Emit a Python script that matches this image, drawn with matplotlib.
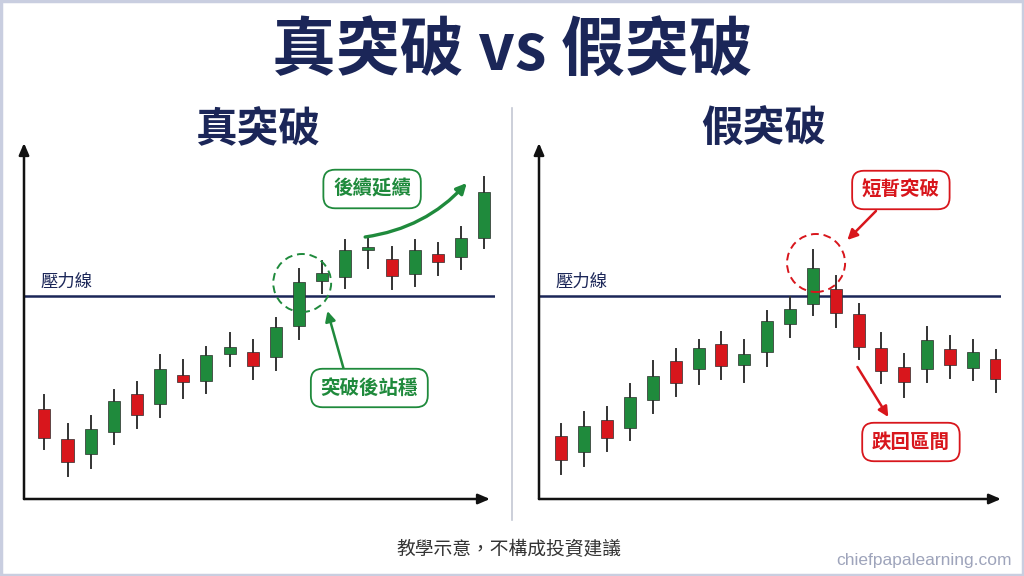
import matplotlib
matplotlib.use("Agg")
import matplotlib.pyplot as plt
from matplotlib.patches import Rectangle, Ellipse
from matplotlib.lines import Line2D

plt.rcParams['font.family'] = ['Noto Sans CJK TC', 'DejaVu Sans']

# price units: arbitrary, resistance line at 204
resistance = 204

# true breakout: open, close, high, low
true_open = [91, 61, 46, 68, 106, 96, 125, 119, 146, 148, 143, 174, 219, 223, 250, 241, 226, 246, 243, 262]
true_close = [62, 38, 71, 99, 85, 131, 118, 145, 153, 134, 173, 218, 227, 250, 253, 224, 250, 238, 262, 308]
true_high = [105, 76, 84, 110, 118, 145, 140, 153, 167, 160, 182, 231, 239, 260, 261, 253, 260, 257, 273, 323]
true_low = [51, 24, 32, 56, 72, 83, 102, 107, 134, 121, 130, 161, 207, 212, 232, 211, 214, 225, 231, 252]

# false breakout
false_open = [64, 48, 80, 72, 100, 139, 131, 156, 135, 148, 176, 196, 211, 186, 152, 133, 131, 151, 132, 141]
false_close = [40, 74, 62, 103, 124, 117, 152, 134, 146, 179, 191, 232, 187, 153, 129, 118, 160, 135, 148, 121]
false_high = [76, 88, 93, 116, 139, 151, 160, 168, 160, 189, 203, 250, 224, 196, 167, 146, 173, 164, 160, 150]
false_low = [26, 34, 49, 60, 87, 104, 116, 121, 118, 134, 163, 185, 173, 141, 117, 103, 118, 122, 120, 108]

GREEN = '#1f8a3c'
RED = '#d8161c'
NAVY = '#1b2658'


def draw_candles(ax, o, c, h, l):
    for i in range(len(o)):
        col = GREEN if c[i] >= o[i] else RED
        ax.plot([i, i], [l[i], h[i]], color='#333333', lw=1.4, zorder=2)
        lo, hi = min(o[i], c[i]), max(o[i], c[i])
        ax.add_patch(Rectangle((i - 0.26, lo), 0.52, max(hi - lo, 3),
                               facecolor=col, edgecolor='#2a2a2a', lw=0.5, zorder=3))


def setup(ax, xlim, xarrow):
    ax.set_xlim(*xlim)
    ax.set_ylim(1, 357)
    ax.axis('off')
    ax.annotate('', xy=(0, 1.0), xytext=(0, 0), xycoords='axes fraction',
                arrowprops=dict(arrowstyle='-|>,head_length=0.7,head_width=0.3',
                                color='#111111', lw=1.8, shrinkA=0, shrinkB=0))
    ax.annotate('', xy=(xarrow, 0), xytext=(0, 0), xycoords='axes fraction',
                arrowprops=dict(arrowstyle='-|>,head_length=0.7,head_width=0.3',
                                color='#111111', lw=1.8, shrinkA=0, shrinkB=0))
    ax.axhline(resistance, color=NAVY, lw=1.8, zorder=1)
    ax.text(xlim[0] + 0.72, resistance + 14, '壓力線', fontsize=12.5, color=NAVY,
            ha='left', va='center')


def label(ax, x, y, s, col):
    ax.text(x, y, s, fontsize=14, fontweight='bold', color=col, ha='center', va='center',
            bbox=dict(boxstyle='round,pad=0.5,rounding_size=0.6', fc='white', ec=col, lw=1.3),
            zorder=5)


fig = plt.figure(figsize=(10.24, 5.76), dpi=100, facecolor='white')

ax1 = fig.add_axes([24 / 1024, 77 / 576, 471 / 1024, 356 / 576])
setup(ax1, (-0.88, 19.47), 466 / 471)
draw_candles(ax1, true_open, true_close, true_high, true_low)
ax1.add_patch(Ellipse((11.14, 217), 2.5, 58, fill=False, ec=GREEN, lw=1.4,
                      ls=(0, (4, 2.5)), zorder=4))
label(ax1, 14.16, 311, '後續延續', GREEN)
label(ax1, 14.04, 112, '突破後站穩', GREEN)
ax1.annotate('', xy=(18.25, 317), xytext=(13.86, 263),
             arrowprops=dict(arrowstyle='-|>,head_length=0.6,head_width=0.3', color=GREEN,
                             lw=2.4, connectionstyle='arc3,rad=0.18', shrinkA=0, shrinkB=0))
ax1.annotate('', xy=(12.23, 189), xytext=(12.92, 132),
             arrowprops=dict(arrowstyle='-|>,head_length=0.6,head_width=0.3', color=GREEN,
                             lw=1.8, shrinkA=0, shrinkB=0))

ax2 = fig.add_axes([539 / 1024, 77 / 576, 462 / 1024, 356 / 576])
setup(ax2, (-0.98, 19.23), 1.0)
draw_candles(ax2, false_open, false_close, false_high, false_low)
ax2.add_patch(Ellipse((11.14, 237), 2.54, 58, fill=False, ec=RED, lw=1.4,
                      ls=(0, (4, 2.5)), zorder=4))
label(ax2, 14.85, 310, '短暫突破', RED)
label(ax2, 15.29, 58, '跌回區間', RED)
ax2.annotate('', xy=(12.51, 260), xytext=(13.76, 289),
             arrowprops=dict(arrowstyle='-|>,head_length=0.6,head_width=0.3', color=RED,
                             lw=1.8, shrinkA=0, shrinkB=0))
ax2.annotate('', xy=(14.3, 83), xytext=(12.95, 133),
             arrowprops=dict(arrowstyle='-|>,head_length=0.6,head_width=0.3', color=RED,
                             lw=1.8, shrinkA=0, shrinkB=0))

# titles
fig.text(0.5, 1 - 52 / 576, '真突破 vs 假突破', fontsize=46, fontweight='bold',
         color=NAVY, ha='center', va='center')
fig.text(258 / 1024, 1 - 130 / 576, '真突破', fontsize=30, fontweight='bold',
         color=NAVY, ha='center', va='center')
fig.text(764 / 1024, 1 - 130 / 576, '假突破', fontsize=30, fontweight='bold',
         color=NAVY, ha='center', va='center')

# divider
fig.add_artist(Line2D([512 / 1024, 512 / 1024], [1 - 108 / 576, 1 - 520 / 576],
                      color='#c3c7d3', lw=1.2))

fig.text(509 / 1024, 1 - 550 / 576, '教學示意，不構成投資建議', fontsize=13.5,
         color='#333333', ha='center', va='center')
fig.text(1012 / 1024, 1 - 560 / 576, 'chiefpapalearning.com', fontsize=12.5,
         color='#9ea4bb', ha='right', va='center', family='Liberation Sans')

# light border
fig.add_artist(Rectangle((0.001, 0.002), 0.998, 0.996, transform=fig.transFigure,
                         fill=False, ec='#c9cee0', lw=2.5))

fig.savefig('out.png', dpi=100, facecolor='white')
